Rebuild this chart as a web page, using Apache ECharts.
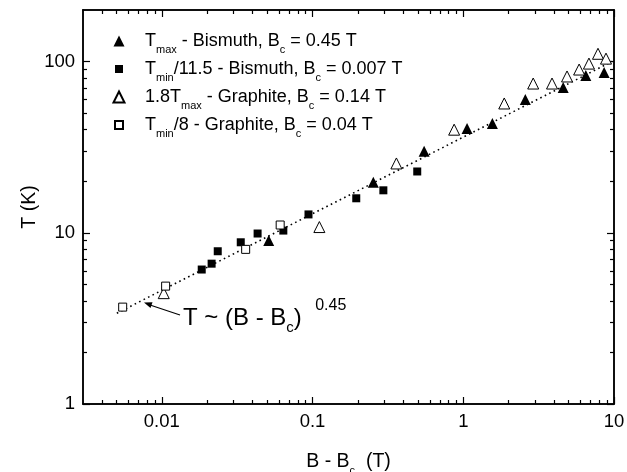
<!DOCTYPE html>
<html><head><meta charset="utf-8">
<script src="https://cdn.jsdelivr.net/npm/echarts@6/dist/echarts.min.js"></script>
<style>html,body{margin:0;padding:0;background:#fff}#c{width:627px;height:472px}</style>
</head><body><div id="c"></div>
<script>
// ---- data (B - Bc in T, T in K) ----
const bismuthTmax = [[0.0512,9.0],[0.253,19.7],[0.55,29.9],[1.06,40.7],[1.56,43.5],[2.58,60],[4.6,70.5],[6.5,82.9],[8.6,86.3]];
const bismuthTmin = [[0.0184,6.1],[0.0214,6.6],[0.0235,7.8],[0.0334,8.8],[0.0432,9.9],[0.064,10.3],[0.094,12.8],[0.195,15.9],[0.295,17.7],[0.495,22.8]];
const graphiteTmax = [[0.0103,4.44],[0.111,10.8],[0.36,25.4],[0.87,40],[1.87,56.9],[2.91,74.4],[3.88,74.4],[4.88,81.8],[5.87,89.8],[6.82,97.3],[7.83,111],[8.85,104]];
const graphiteTmin = [[0.0055,3.68],[0.0106,4.88],[0.036,8.0],[0.061,11.1]];
const fitLine = [[0.00503,3.39],[9.7,100]];
const seriesNames = ['Tmax - Bismuth, Bc = 0.45 T','Tmin/11.5 - Bismuth, Bc = 0.007 T','1.8Tmax - Graphite, Bc = 0.14 T','Tmin/8 - Graphite, Bc = 0.04 T'];
const legendRich = ['{m|T}{s|max}{m| - Bismuth, B}{s|c}{m| = 0.45 T}','{m|T}{s|min}{m|/11.5 - Bismuth, B}{s|c}{m| = 0.007 T}','{m|1.8T}{s|max}{m| - Graphite, B}{s|c}{m| = 0.14 T}','{m|T}{s|min}{m|/8 - Graphite, B}{s|c}{m| = 0.04 T}'];
const xMajorTicks = [0.01,0.1,1,10];
const xMinorTicks = [0.004,0.005,0.006,0.007,0.008,0.009,0.02,0.03,0.04,0.05,0.06,0.07,0.08,0.09,0.2,0.3,0.4,0.5,0.6,0.7,0.8,0.9,2,3,4,5,6,7,8,9];
const yMajorTicks = [1,10,100];
const yMinorTicks = [2,3,4,5,6,7,8,9,20,30,40,50,60,70,80,90];
const xRange = [0.003,10];
const yRange = [1,200];

const FONT = '"Liberation Sans", Arial, Helvetica, sans-serif';
const line = {color:'#000', width:1.5};
const fmt = v => String(+Number(v).toPrecision(6));
// legend icons (path icons keep their aspect; the extra move-to points pad the squares)
const ICON_TRI = 'path://M5.5,0L11,11L0,11Z';
const ICON_SQ = 'path://M0,0M1.5,1.5L9.5,1.5L9.5,9.5L1.5,9.5ZM11,11';
const legendIcons = [ICON_TRI, ICON_SQ, ICON_TRI, ICON_SQ];

function axisDef(range, pos, ticks, len, labels, extra) {
  return Object.assign({
    type:'log', logBase:10, position:pos, min:range[0], max:range[1],
    axisLine:{show:true, onZero:false, lineStyle:line},
    axisTick:{show:true, inside:true, length:len, customValues:ticks, lineStyle:{color:'#000', width:1.2}},
    axisLabel: labels ? {show:true, customValues:labels, formatter:fmt, color:'#000', fontFamily:FONT, fontSize:18.5, margin:8} : {show:false},
    splitLine:{show:false}, minorTick:{show:false}, minorSplitLine:{show:false}
  }, extra || {});
}

const chart = echarts.init(document.getElementById('c'), null, {renderer:'canvas'});
chart.setOption({
  animation:false,
  backgroundColor:'#fff',
  grid:{left:83, right:13, top:10, bottom:68, outerBoundsMode:'none', containLabel:false},
  xAxis:[
    axisDef(xRange,'bottom',xMajorTicks,7,xMajorTicks,{
      name:'{m|B - B}{s|c}{m|  (T)}', nameLocation:'middle', nameGap:44, nameMoveOverlap:false,
      nameTextStyle:{color:'#000', fontFamily:FONT, rich:{
        m:{fontSize:19.5, fontFamily:FONT, color:'#000', lineHeight:28},
        s:{fontSize:11, fontFamily:FONT, color:'#000', lineHeight:11, verticalAlign:'bottom'}}}
    }),
    axisDef(xRange,'bottom',xMinorTicks,4,null),
    axisDef(xRange,'top',xMajorTicks,7,null),
    axisDef(xRange,'top',xMinorTicks,4,null)
  ],
  yAxis:[
    axisDef(yRange,'left',yMajorTicks,7,yMajorTicks,{
      name:'T (K)', nameLocation:'middle', nameGap:43, nameRotate:90, nameMoveOverlap:false,
      nameTextStyle:{color:'#000', fontFamily:FONT, fontSize:19.5}
    }),
    axisDef(yRange,'left',yMinorTicks,4,null),
    axisDef(yRange,'right',yMajorTicks,7,null),
    axisDef(yRange,'right',yMinorTicks,4,null)
  ],
  legend:{
    data: seriesNames.map((n,i) => ({name:n, icon:legendIcons[i]})),
    orient:'vertical', left:112.5, top:27, padding:0,
    itemWidth:42, itemHeight:11, itemGap:0, selectedMode:false, symbolKeepAspect:true,
    formatter: name => legendRich[seriesNames.indexOf(name)],
    textStyle:{color:'#000', fontFamily:FONT, fontSize:18, lineHeight:28, rich:{
      m:{fontSize:18, fontFamily:FONT, color:'#000', lineHeight:28},
      s:{fontSize:11, fontFamily:FONT, color:'#000', lineHeight:11, verticalAlign:'bottom'}}}
  },
  graphic:[
    {type:'text', left:183, top:298, z:100, style:{
      text:'{m|T ~ (B - B}{s|c}{m|)}{g|  }{p|0.45}', fill:'#000', font:'24px '+FONT,
      rich:{
        m:{fontSize:24, fontFamily:FONT, fill:'#000', lineHeight:40},
        g:{fontSize:24, fontFamily:FONT, fill:'#000', lineHeight:40},
        s:{fontSize:15, fontFamily:FONT, fill:'#000', lineHeight:15, padding:[19,0,0,0]},
        p:{fontSize:16, fontFamily:FONT, fill:'#000', lineHeight:14, verticalAlign:'top'}}}},
    {type:'line', z:100, shape:{x1:180, y1:315, x2:150, y2:305}, style:{stroke:'#000', lineWidth:1.3}},
    {type:'polygon', z:100, shape:{points:[[144,302.5],[152.5,302.3],[150.5,307.9]]}, style:{fill:'#000'}}
  ],
  series:[
    {type:'line', name:'fit', data:fitLine, xAxisIndex:0, yAxisIndex:0, symbol:'none', silent:true,
      lineStyle:{color:'#000', width:1.6, type:[1.6,3.4]}, z:1},
    {type:'scatter', name:seriesNames[0], data:bismuthTmax, symbol:'triangle', symbolSize:11,
      itemStyle:{color:'#000', opacity:1}, z:3},
    {type:'scatter', name:seriesNames[1], data:bismuthTmin, symbol:'rect', symbolSize:8,
      itemStyle:{color:'#000', opacity:1}, z:3},
    {type:'scatter', name:seriesNames[2], data:graphiteTmax, symbol:'triangle', symbolSize:11,
      itemStyle:{color:'#fff', borderColor:'#000', borderWidth:1, opacity:1}, z:3},
    {type:'scatter', name:seriesNames[3], data:graphiteTmin, symbol:'rect', symbolSize:8,
      itemStyle:{color:'#fff', borderColor:'#000', borderWidth:1, opacity:1}, z:3}
  ]
});
</script></body></html>
